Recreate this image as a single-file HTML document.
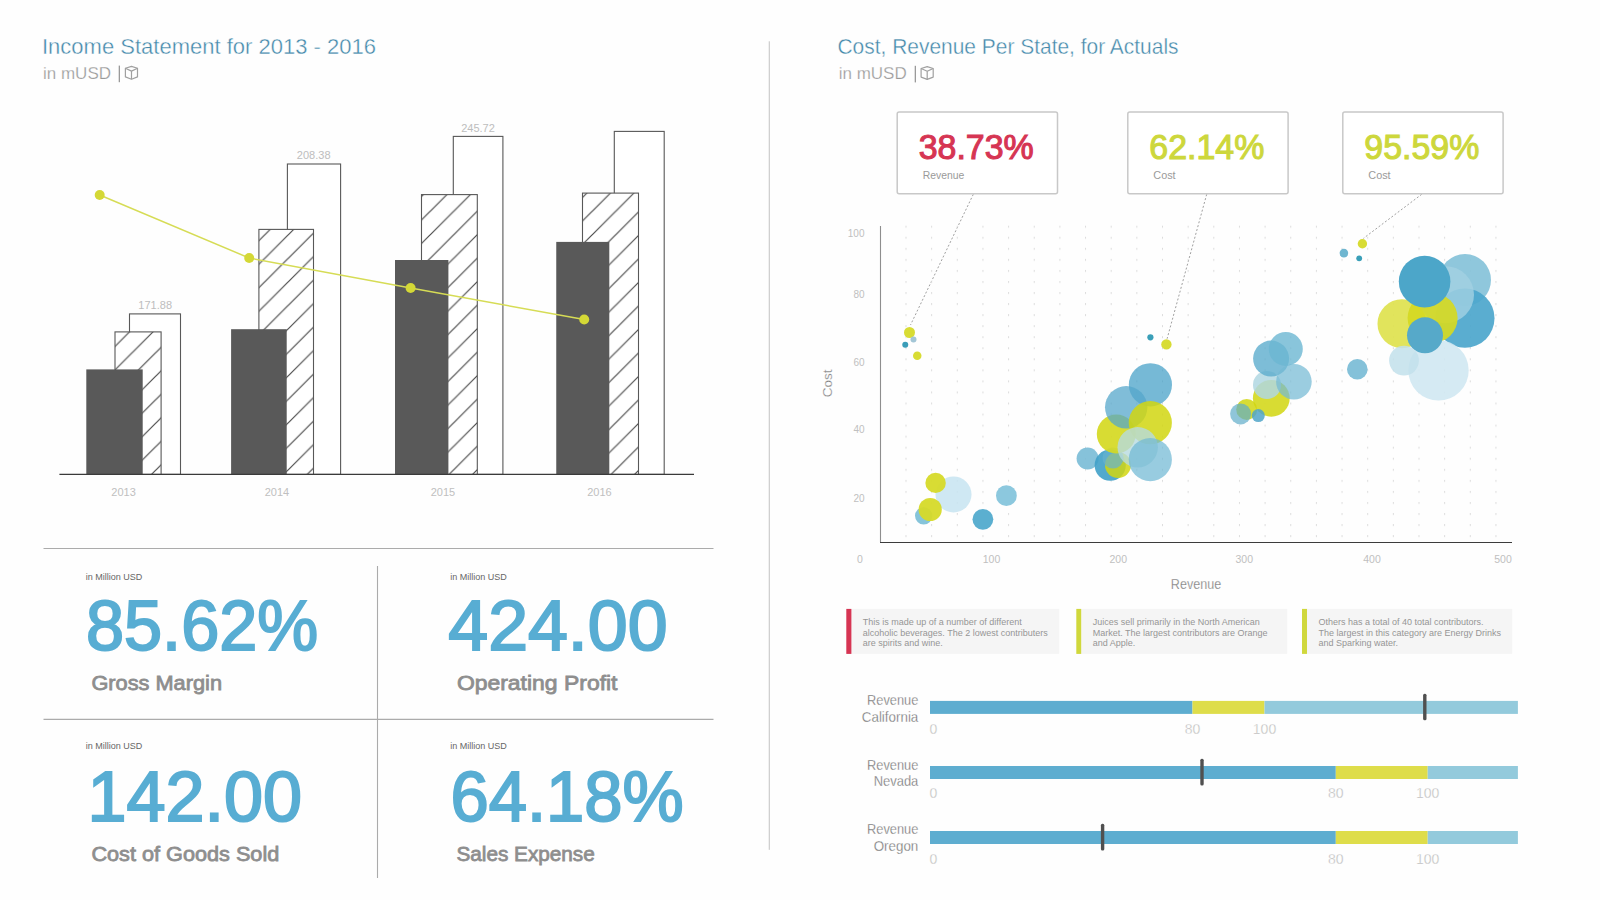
<!DOCTYPE html><html><head><meta charset="utf-8"><style>
html,body{margin:0;padding:0;background:#fefefe;width:1600px;height:900px;overflow:hidden}
svg{display:block;font-family:"Liberation Sans",sans-serif}
</style></head><body>
<svg width="1600" height="900" viewBox="0 0 1600 900">
<defs>
<pattern id="dots" patternUnits="userSpaceOnUse" x="905.5" y="225.7" width="25.65" height="11.05"><rect x="0" y="0" width="1" height="2" fill="#dcdcdc"/></pattern>
</defs>
<rect width="1600" height="900" fill="#fefefe"/>
<text x="42" y="54.3" font-size="22" fill="#4388aa" stroke="#fefefe" stroke-width="0.38" textLength="334" lengthAdjust="spacingAndGlyphs">Income Statement for 2013 - 2016</text>
<text x="43" y="79" font-size="16.5" fill="#999" stroke="#fefefe" stroke-width="0.25" textLength="68" lengthAdjust="spacingAndGlyphs">in mUSD</text>
<rect x="118.7" y="65.6" width="1.3" height="16.6" fill="#9a9a9a"/>
<g fill="none" stroke="#a0a0a0" stroke-width="1.2" stroke-linejoin="round"><path d="M131.5 66.4 L125.4 68.3 L125.4 76.9 L131.5 79.2 L137.5 76.9 L137.5 68.3 Z"/><path d="M125.4 68.3 L131.5 71.1 L137.5 68.3 M131.5 71.1 L131.5 79.2"/></g>
<defs>
<pattern id="hat0" patternUnits="userSpaceOnUse" x="14.9" y="0" width="23.5" height="23.5"><path d="M-2 2 L2 -2 M0 23.5 L23.5 0 M21.5 25.5 L25.5 21.5" stroke="#4a4a4a" stroke-width="1.2"/></pattern>
<pattern id="hat1" patternUnits="userSpaceOnUse" x="6.1" y="0" width="23.5" height="23.5"><path d="M-2 2 L2 -2 M0 23.5 L23.5 0 M21.5 25.5 L25.5 21.5" stroke="#4a4a4a" stroke-width="1.2"/></pattern>
<pattern id="hat2" patternUnits="userSpaceOnUse" x="7.0" y="0" width="23.5" height="23.5"><path d="M-2 2 L2 -2 M0 23.5 L23.5 0 M21.5 25.5 L25.5 21.5" stroke="#4a4a4a" stroke-width="1.2"/></pattern>
<pattern id="hat3" patternUnits="userSpaceOnUse" x="4.5" y="0" width="23.5" height="23.5"><path d="M-2 2 L2 -2 M0 23.5 L23.5 0 M21.5 25.5 L25.5 21.5" stroke="#4a4a4a" stroke-width="1.2"/></pattern>
</defs>
<rect x="129.5" y="313.9" width="51.0" height="160.5" fill="#fff" stroke="#585858" stroke-width="1.1"/>
<rect x="115.0" y="331.9" width="46.1" height="142.5" fill="#fff"/>
<rect x="115.0" y="331.9" width="46.1" height="142.5" fill="url(#hat0)" stroke="#585858" stroke-width="1.1"/>
<rect x="86.3" y="369.4" width="56.4" height="105.0" fill="#595959"/>
<text x="155.2" y="309.2" font-size="11" fill="#bdbdbd" text-anchor="middle">171.88</text>
<text x="123.6" y="496.3" font-size="11" fill="#c0c0c0" text-anchor="middle">2013</text>
<rect x="287.4" y="164.0" width="53.2" height="310.4" fill="#fff" stroke="#585858" stroke-width="1.1"/>
<rect x="258.9" y="229.4" width="54.6" height="245" fill="#fff"/>
<rect x="258.9" y="229.4" width="54.6" height="245" fill="url(#hat1)" stroke="#585858" stroke-width="1.1"/>
<rect x="231.1" y="329.2" width="55.6" height="145.2" fill="#595959"/>
<text x="313.7" y="159.3" font-size="11" fill="#bdbdbd" text-anchor="middle">208.38</text>
<text x="277.0" y="496.3" font-size="11" fill="#c0c0c0" text-anchor="middle">2014</text>
<rect x="453.3" y="136.4" width="49.6" height="338.0" fill="#fff" stroke="#585858" stroke-width="1.1"/>
<rect x="421.5" y="194.6" width="55.8" height="279.8" fill="#fff"/>
<rect x="421.5" y="194.6" width="55.8" height="279.8" fill="url(#hat2)" stroke="#585858" stroke-width="1.1"/>
<rect x="395.0" y="260.0" width="53.4" height="214.4" fill="#595959"/>
<text x="478.0" y="131.7" font-size="11" fill="#bdbdbd" text-anchor="middle">245.72</text>
<text x="442.9" y="496.3" font-size="11" fill="#c0c0c0" text-anchor="middle">2015</text>
<rect x="614.3" y="131.4" width="49.9" height="343.0" fill="#fff" stroke="#585858" stroke-width="1.1"/>
<rect x="582.5" y="193.1" width="56.0" height="281.3" fill="#fff"/>
<rect x="582.5" y="193.1" width="56.0" height="281.3" fill="url(#hat3)" stroke="#585858" stroke-width="1.1"/>
<rect x="556.25" y="241.9" width="53.05" height="232.5" fill="#595959"/>
<text x="599.4" y="496.3" font-size="11" fill="#c0c0c0" text-anchor="middle">2016</text>
<line x1="59.4" y1="474.4" x2="694" y2="474.4" stroke="#3a3a3a" stroke-width="1.3"/>
<polyline points="99.7,195.0 249.2,258.0 410.6,288.0 584.2,319.5" fill="none" stroke="#d6dc55" stroke-width="1.5"/>
<circle cx="99.7" cy="195.0" r="5" fill="#d4d836"/>
<circle cx="249.2" cy="258.0" r="5" fill="#d4d836"/>
<circle cx="410.6" cy="288.0" r="5" fill="#d4d836"/>
<circle cx="584.2" cy="319.5" r="5" fill="#d4d836"/>
<g stroke="#ababab" stroke-width="1.1">
<line x1="43.5" y1="548.5" x2="713.5" y2="548.5"/>
<line x1="43.5" y1="719.4" x2="713.5" y2="719.4"/>
<line x1="377.5" y1="566" x2="377.5" y2="878"/>
</g>
<text x="85.7" y="580.3" font-size="9" fill="#666" textLength="56.6" lengthAdjust="spacingAndGlyphs">in Million USD</text>
<text x="85.9" y="650.1" font-size="70" fill="#58add3" stroke="#58add3" stroke-width="2" textLength="232.4" lengthAdjust="spacingAndGlyphs">85.62%</text>
<text x="91.4" y="689.6" font-size="21" fill="#8e8e8e" stroke="#8e8e8e" stroke-width="0.8" textLength="130.6" lengthAdjust="spacingAndGlyphs">Gross Margin</text>
<text x="450.2" y="580.3" font-size="9" fill="#666" textLength="56.6" lengthAdjust="spacingAndGlyphs">in Million USD</text>
<text x="448.3" y="650.1" font-size="70" fill="#58add3" stroke="#58add3" stroke-width="2" textLength="219.2" lengthAdjust="spacingAndGlyphs">424.00</text>
<text x="456.9" y="689.6" font-size="21" fill="#8e8e8e" stroke="#8e8e8e" stroke-width="0.8" textLength="160.6" lengthAdjust="spacingAndGlyphs">Operating Profit</text>
<text x="85.7" y="748.8" font-size="9" fill="#666" textLength="56.6" lengthAdjust="spacingAndGlyphs">in Million USD</text>
<text x="87.5" y="820.9" font-size="70" fill="#58add3" stroke="#58add3" stroke-width="2" textLength="214.6" lengthAdjust="spacingAndGlyphs">142.00</text>
<text x="91.4" y="860.8" font-size="21" fill="#8e8e8e" stroke="#8e8e8e" stroke-width="0.8" textLength="187.9" lengthAdjust="spacingAndGlyphs">Cost of Goods Sold</text>
<text x="450.2" y="748.8" font-size="9" fill="#666" textLength="56.6" lengthAdjust="spacingAndGlyphs">in Million USD</text>
<text x="450.5" y="820.9" font-size="70" fill="#58add3" stroke="#58add3" stroke-width="2" textLength="233.2" lengthAdjust="spacingAndGlyphs">64.18%</text>
<text x="456.4" y="860.8" font-size="21" fill="#8e8e8e" stroke="#8e8e8e" stroke-width="0.8" textLength="138.4" lengthAdjust="spacingAndGlyphs">Sales Expense</text>
<rect x="768.7" y="41.3" width="1.3" height="808.5" fill="#d0d0d0"/>
<text x="837.5" y="53.8" font-size="22" fill="#4388aa" stroke="#fefefe" stroke-width="0.38" textLength="341" lengthAdjust="spacingAndGlyphs">Cost, Revenue Per State, for Actuals</text>
<text x="838.7" y="79.2" font-size="16.5" fill="#999" stroke="#fefefe" stroke-width="0.25" textLength="68" lengthAdjust="spacingAndGlyphs">in mUSD</text>
<rect x="914.7" y="65.8" width="1.3" height="16.6" fill="#9a9a9a"/>
<g fill="none" stroke="#a0a0a0" stroke-width="1.2" stroke-linejoin="round"><path d="M927.2 66.6 L921.1 68.5 L921.1 77.1 L927.2 79.4 L933.2 77.1 L933.2 68.5 Z"/><path d="M921.1 68.5 L927.2 71.3 L933.2 68.5 M927.2 71.3 L927.2 79.4"/></g>
<line x1="973.3" y1="194.3" x2="910.5" y2="325" stroke="#a0a0a0" stroke-width="1" stroke-dasharray="2 2"/>
<rect x="897.2" y="111.9" width="160.3" height="81.8" rx="2" fill="#fff" stroke="#c8c8c8" stroke-width="1.5"/>
<text x="918.7" y="159.3" font-size="34.5" fill="#d63553" stroke="#d63553" stroke-width="1.1" textLength="115" lengthAdjust="spacingAndGlyphs">38.73%</text>
<text x="922.7" y="178.7" font-size="10" fill="#9a9a9a" textLength="41.6" lengthAdjust="spacingAndGlyphs">Revenue</text>
<line x1="1206.7" y1="194.3" x2="1167.1" y2="338.7" stroke="#a0a0a0" stroke-width="1" stroke-dasharray="2 2"/>
<rect x="1127.8" y="111.9" width="160.3" height="81.8" rx="2" fill="#fff" stroke="#c8c8c8" stroke-width="1.5"/>
<text x="1149.3" y="159.3" font-size="34.5" fill="#cdd73c" stroke="#cdd73c" stroke-width="1.1" textLength="115" lengthAdjust="spacingAndGlyphs">62.14%</text>
<text x="1153.3" y="178.7" font-size="10" fill="#9a9a9a" textLength="22.3" lengthAdjust="spacingAndGlyphs">Cost</text>
<line x1="1421.7" y1="194.3" x2="1363.4" y2="238.4" stroke="#a0a0a0" stroke-width="1" stroke-dasharray="2 2"/>
<rect x="1342.8" y="111.9" width="160.3" height="81.8" rx="2" fill="#fff" stroke="#c8c8c8" stroke-width="1.5"/>
<text x="1364.3" y="159.3" font-size="34.5" fill="#cdd73c" stroke="#cdd73c" stroke-width="1.1" textLength="115" lengthAdjust="spacingAndGlyphs">95.59%</text>
<text x="1368.3" y="178.7" font-size="10" fill="#9a9a9a" textLength="22.3" lengthAdjust="spacingAndGlyphs">Cost</text>
<rect x="903" y="222" width="600" height="318" fill="url(#dots)"/>
<line x1="880.5" y1="226" x2="880.5" y2="542.6" stroke="#8e8e8e" stroke-width="1.1"/>
<line x1="880" y1="542.5" x2="1512" y2="542.5" stroke="#3c3c3c" stroke-width="1.15"/>
<text x="864.5" y="236.5" font-size="10" fill="#c0c0c0" text-anchor="end">100</text>
<text x="864.5" y="298.2" font-size="10" fill="#c0c0c0" text-anchor="end">80</text>
<text x="864.5" y="366.2" font-size="10" fill="#c0c0c0" text-anchor="end">60</text>
<text x="864.5" y="433.2" font-size="10" fill="#c0c0c0" text-anchor="end">40</text>
<text x="864.5" y="502" font-size="10" fill="#c0c0c0" text-anchor="end">20</text>
<text x="860" y="563" font-size="10.5" fill="#c0c0c0" text-anchor="middle">0</text>
<text x="991.5" y="563" font-size="10.5" fill="#c0c0c0" text-anchor="middle">100</text>
<text x="1118.3" y="563" font-size="10.5" fill="#c0c0c0" text-anchor="middle">200</text>
<text x="1244.3" y="563" font-size="10.5" fill="#c0c0c0" text-anchor="middle">300</text>
<text x="1372" y="563" font-size="10.5" fill="#c0c0c0" text-anchor="middle">400</text>
<text x="1503" y="563" font-size="10.5" fill="#c0c0c0" text-anchor="middle">500</text>
<text x="1196" y="589" font-size="14" fill="#7a7a7a" stroke="#fefefe" stroke-width="0.25" text-anchor="middle" textLength="50.3" lengthAdjust="spacingAndGlyphs">Revenue</text>
<text transform="translate(832.3 383.3) rotate(-90)" font-size="13.5" fill="#7a7a7a" stroke="#fefefe" stroke-width="0.25" text-anchor="middle">Cost</text>
<circle cx="909.5" cy="332.5" r="5.5" fill="#d8dc34"/>
<circle cx="913.5" cy="339.5" r="3" fill="#a3c6d6"/>
<circle cx="905.25" cy="344.75" r="3" fill="#3a9db8"/>
<circle cx="917.25" cy="355.75" r="4.25" fill="#d8dc34"/>
<circle cx="923.7" cy="515.8" r="8.7" fill="#86c4da"/>
<circle cx="953.5" cy="494.4" r="18" fill="#c7e4f1" fill-opacity="0.85"/>
<circle cx="935.6" cy="482.9" r="10.2" fill="#d6da29" fill-opacity="0.95"/>
<circle cx="930.2" cy="509.5" r="11.6" fill="#d6da29" fill-opacity="0.95"/>
<circle cx="982.9" cy="519.3" r="10.4" fill="#5bafd0"/>
<circle cx="1006.4" cy="495.7" r="10.4" fill="#8cc8de"/>
<circle cx="1150.4" cy="337.3" r="3.1" fill="#3a9fb8"/>
<circle cx="1166.4" cy="344.4" r="5.2" fill="#d8dc34"/>
<circle cx="1087.6" cy="458.5" r="11" fill="#79bbd6" fill-opacity="0.9"/>
<circle cx="1110.2" cy="465.2" r="15.6" fill="#3fa0c8" fill-opacity="0.9"/>
<circle cx="1118" cy="465" r="13" fill="#d1d610" fill-opacity="0.85"/>
<circle cx="1113" cy="458" r="10.5" fill="#67b2cf" fill-opacity="0.7"/>
<circle cx="1116.3" cy="434" r="19.5" fill="#d5d922" fill-opacity="0.92"/>
<circle cx="1150.4" cy="384.8" r="21.6" fill="#419ec6" fill-opacity="0.72"/>
<circle cx="1126.2" cy="407.3" r="21.2" fill="#55a7cb" fill-opacity="0.75"/>
<circle cx="1150.3" cy="422.7" r="21.6" fill="#d1d610" fill-opacity="0.85"/>
<circle cx="1137.7" cy="447.3" r="20.2" fill="#b6dbe0" fill-opacity="0.8"/>
<circle cx="1150.3" cy="459.6" r="21.6" fill="#70b9d4" fill-opacity="0.72"/>
<circle cx="1271.3" cy="398.3" r="18.4" fill="#d5d922" fill-opacity="0.92"/>
<circle cx="1267" cy="385" r="14" fill="#b0d7e2" fill-opacity="0.85"/>
<circle cx="1271.1" cy="358.6" r="18" fill="#5daccd" fill-opacity="0.8"/>
<circle cx="1285.8" cy="348.9" r="17" fill="#6bb6d2" fill-opacity="0.8"/>
<circle cx="1293.9" cy="381.7" r="17.8" fill="#74bad4" fill-opacity="0.72"/>
<circle cx="1246.7" cy="409.4" r="10.5" fill="#d1d610" fill-opacity="0.85"/>
<circle cx="1258.3" cy="415.6" r="6.5" fill="#50a5c8" fill-opacity="0.85"/>
<circle cx="1240.6" cy="413.9" r="10.5" fill="#5fadc9" fill-opacity="0.7"/>
<circle cx="1343.9" cy="253.1" r="4.3" fill="#6fb6d0"/>
<circle cx="1362.4" cy="243.8" r="4.7" fill="#d8dc34"/>
<circle cx="1359.2" cy="258.3" r="2.9" fill="#3a9fb8"/>
<circle cx="1357.3" cy="369.3" r="10.3" fill="#84c1d9"/>
<circle cx="1465" cy="280" r="26" fill="#83c1d8" fill-opacity="0.9"/>
<circle cx="1464.9" cy="318.2" r="29.6" fill="#4ca6cc" fill-opacity="0.92"/>
<circle cx="1445.5" cy="294.7" r="28.5" fill="#a2d1e2" fill-opacity="0.8"/>
<circle cx="1402" cy="323.7" r="24.5" fill="#dee24e" fill-opacity="0.92"/>
<circle cx="1432.6" cy="318" r="25" fill="#d5d922" fill-opacity="0.92"/>
<circle cx="1438.5" cy="370.4" r="30.2" fill="#d0e8f2" fill-opacity="0.9"/>
<circle cx="1404" cy="360.6" r="14.9" fill="#c2e1eb" fill-opacity="0.85"/>
<circle cx="1424.6" cy="281.6" r="25.8" fill="#4ca6c9"/>
<circle cx="1425" cy="335.3" r="18" fill="#56a9c9"/>
<rect x="851.4" y="608.9" width="207.8" height="45" fill="#f5f5f5"/>
<rect x="846.3" y="608.9" width="5.1" height="45" fill="#d63553"/>
<text x="862.8" y="625.0" font-size="9" fill="#959595">This is made up of a number of different</text>
<text x="862.8" y="635.5" font-size="9" fill="#959595">alcoholic beverages. The 2 lowest contributers</text>
<text x="862.8" y="646.0" font-size="9" fill="#959595">are spirits and wine.</text>
<rect x="1081.2" y="608.9" width="206.0" height="45" fill="#f5f5f5"/>
<rect x="1076.3" y="608.9" width="4.9" height="45" fill="#d0d83c"/>
<text x="1092.7" y="625.0" font-size="9" fill="#959595">Juices sell primarily in the North American</text>
<text x="1092.7" y="635.5" font-size="9" fill="#959595">Market. The largest contributors are Orange</text>
<text x="1092.7" y="646.0" font-size="9" fill="#959595">and Apple.</text>
<rect x="1307.0" y="608.9" width="205.2" height="45" fill="#f5f5f5"/>
<rect x="1302.0" y="608.9" width="5.0" height="45" fill="#d0d83c"/>
<text x="1318.4" y="625.0" font-size="9" fill="#959595">Others has a total of 40 total contributors.</text>
<text x="1318.4" y="635.5" font-size="9" fill="#959595">The largest in this category are Energy Drinks</text>
<text x="1318.4" y="646.0" font-size="9" fill="#959595">and Sparking water.</text>
<rect x="930" y="700.9" width="262.5" height="13" fill="#5eadd0"/>
<rect x="1192.5" y="700.9" width="72.0" height="13" fill="#dedd4a"/>
<rect x="1264.5" y="700.9" width="253.4" height="13" fill="#93cadc"/>
<rect x="1423.1" y="693.7" width="3.4" height="26.6" rx="1.5" fill="#505050"/>
<text x="918.3" y="705.4" font-size="14.5" fill="#6c6c6c" stroke="#fefefe" stroke-width="0.3" text-anchor="end" textLength="51.3" lengthAdjust="spacingAndGlyphs">Revenue</text>
<text x="918.3" y="721.9" font-size="14.5" fill="#6c6c6c" stroke="#fefefe" stroke-width="0.3" text-anchor="end" textLength="56.5" lengthAdjust="spacingAndGlyphs">California</text>
<text x="929.5" y="734.4" font-size="14" fill="#b4b4b4" stroke="#fefefe" stroke-width="0.4">0</text>
<text x="1192.5" y="734.4" font-size="14" fill="#b4b4b4" stroke="#fefefe" stroke-width="0.4" text-anchor="middle">80</text>
<text x="1264.5" y="734.4" font-size="14" fill="#b4b4b4" stroke="#fefefe" stroke-width="0.4" text-anchor="middle">100</text>
<rect x="930" y="766.0" width="405.8" height="13" fill="#5eadd0"/>
<rect x="1335.8" y="766.0" width="91.9" height="13" fill="#dedd4a"/>
<rect x="1427.7" y="766.0" width="90.2" height="13" fill="#93cadc"/>
<rect x="1200.3" y="758.8" width="3.4" height="26.6" rx="1.5" fill="#505050"/>
<text x="918.3" y="769.6" font-size="14.5" fill="#6c6c6c" stroke="#fefefe" stroke-width="0.3" text-anchor="end" textLength="51.3" lengthAdjust="spacingAndGlyphs">Revenue</text>
<text x="918.3" y="785.6" font-size="14.5" fill="#6c6c6c" stroke="#fefefe" stroke-width="0.3" text-anchor="end" textLength="44.6" lengthAdjust="spacingAndGlyphs">Nevada</text>
<text x="929.5" y="798.3" font-size="14" fill="#b4b4b4" stroke="#fefefe" stroke-width="0.4">0</text>
<text x="1335.8" y="798.3" font-size="14" fill="#b4b4b4" stroke="#fefefe" stroke-width="0.4" text-anchor="middle">80</text>
<text x="1427.7" y="798.3" font-size="14" fill="#b4b4b4" stroke="#fefefe" stroke-width="0.4" text-anchor="middle">100</text>
<rect x="930" y="831.0" width="405.8" height="13" fill="#5eadd0"/>
<rect x="1335.8" y="831.0" width="91.9" height="13" fill="#dedd4a"/>
<rect x="1427.7" y="831.0" width="90.2" height="13" fill="#93cadc"/>
<rect x="1100.9" y="823.8" width="3.4" height="26.6" rx="1.5" fill="#505050"/>
<text x="918.3" y="834.4" font-size="14.5" fill="#6c6c6c" stroke="#fefefe" stroke-width="0.3" text-anchor="end" textLength="51.3" lengthAdjust="spacingAndGlyphs">Revenue</text>
<text x="918.3" y="850.7" font-size="14.5" fill="#6c6c6c" stroke="#fefefe" stroke-width="0.3" text-anchor="end" textLength="44.6" lengthAdjust="spacingAndGlyphs">Oregon</text>
<text x="929.5" y="863.7" font-size="14" fill="#b4b4b4" stroke="#fefefe" stroke-width="0.4">0</text>
<text x="1335.8" y="863.7" font-size="14" fill="#b4b4b4" stroke="#fefefe" stroke-width="0.4" text-anchor="middle">80</text>
<text x="1427.7" y="863.7" font-size="14" fill="#b4b4b4" stroke="#fefefe" stroke-width="0.4" text-anchor="middle">100</text>
</svg></body></html>
